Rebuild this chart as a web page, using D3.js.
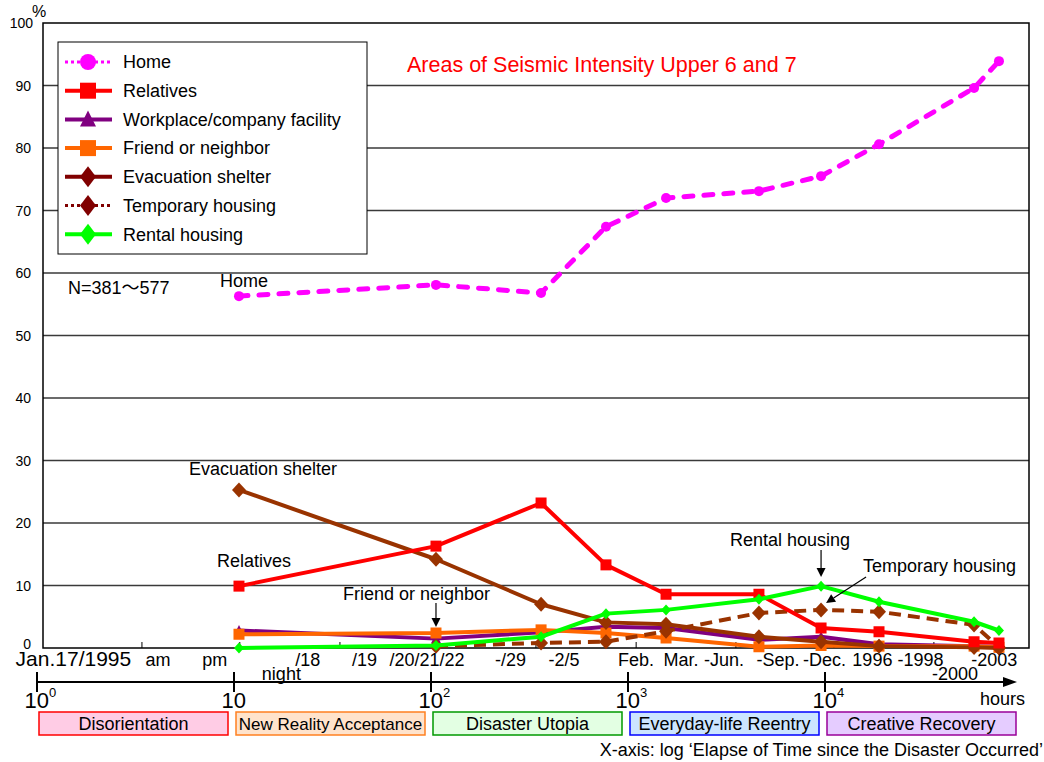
<!DOCTYPE html>
<html><head><meta charset="utf-8">
<script src="https://cdn.jsdelivr.net/npm/d3@7"></script>
<style>
body{margin:0;background:#fff}
text{font-family:"Liberation Sans",Arial,"Noto Sans CJK JP",sans-serif;fill:#000}
</style>
</head><body>
<svg id="c" width="1044" height="762"></svg>
<script>
// ---------------- DATA ----------------
const timeHours = [10.6, 106, 362, 773, 1560, 4620, 9550, 18800, 57100, 76400];
const home       = [56.3, 58.1, 56.8, 67.4, 72.0, 73.1, 75.5, 80.6, 89.6, 93.9];
const relatives  = [9.9, 16.3, 23.2, 13.3, 8.6, 8.6, 3.2, 2.6, 1.0, 0.8];
const workplace  = [2.8, 1.5, 2.5, 3.4, 3.2, 1.3, 1.8, 0.6, 0.3, 0.2];
const friend     = [2.2, 2.4, 2.9, 2.4, 1.6, 0.2, 0.4, 0.3, 0.3, 0.1];
const evacuation = [25.3, 14.2, 7.0, 4.1, 3.8, 1.8, 1.0, 0.3, 0.1, 0.0];
const temporary  = [null, 0.3, 0.8, 1.0, 2.7, 5.6, 6.1, 5.8, 3.7, 0.1];
const rental     = [0.0, 0.4, 1.8, 5.5, 6.1, 7.8, 9.9, 7.4, 4.2, 2.8];

const seriesNames = ["Home","Relatives","Workplace/company facility","Friend or neighbor","Evacuation shelter","Temporary housing","Rental housing"];
const seriesData  = [home, relatives, workplace, friend, evacuation, temporary, rental];

const yTicks = [0,10,20,30,40,50,60,70,80,90,100];
const decadeExps = [0,1,2,3,4];
const minorTicks = [3.41, 10.7, 34.5, 108, 341, 1100, 3530, 11100, 35700];
const timeLabelsRow1 = [["Jan.17/1995",1.53],["am",4.11],["pm",7.99],["/18",23.7],["/19",46.0],["/20/21/22",95.4],["-/29",253],["-2/5",473],["Feb.",1098],["Mar.",1858],["-Jun.",3070],["-Sep.",5770],["-Dec.",9940],["1996",17400],["-1998",30550],["-2003",72300]];
const timeLabelsRow2 = [["night",17.4],["-2000",45700]];
const phases = ["Disorientation","New Reality Acceptance","Disaster Utopia","Everyday-life Reentry","Creative Recovery"];

// ---------------- STYLES ----------------
const lineColors   = ["#FF00FF","#FF0000","#800080","#FF6600","#993300","#993300","#00FF00"];
const legendColors = ["#FF00FF","#FF0000","#800080","#FF6600","#800000","#800000","#00FF00"];
const shapes       = ["circle","square","triangle","square","diamond","diamond","diamond"];
const phaseFill    = ["#FFCCE5","#FFE3CC","#E3FFE3","#CCE5FF","#E5CCFF"];
const phaseStroke  = ["#FF0000","#FF8020","#009900","#0000FF","#990099"];

// ---------------- SCALES ----------------
const svg = d3.select("#c");
const x = d3.scaleLog().domain([1,1e5]).range([37,1022]);
const y = d3.scaleLinear().domain([0,100]).range([648,23]);
const plotL = 43, plotR = 1029;

function marker(g, shape, cx, cy, w, h, color){
  if(shape==="circle") g.append("circle").attr("cx",cx).attr("cy",cy).attr("r",w/2).attr("fill",color);
  else if(shape==="square") g.append("rect").attr("x",cx-w/2).attr("y",cy-h/2).attr("width",w).attr("height",h).attr("fill",color);
  else if(shape==="triangle") g.append("path").attr("d",`M${cx},${cy-h*0.55}L${cx+w/2},${cy+h*0.45}L${cx-w/2},${cy+h*0.45}Z`).attr("fill",color);
  else if(shape==="diamond")
    g.append("path").attr("d",`M${cx},${cy-h/2}L${cx+w/2},${cy}L${cx},${cy+h/2}L${cx-w/2},${cy}Z`).attr("fill",color);
}

// ---------------- GRID + FRAME ----------------
svg.append("g").selectAll("line").data(yTicks.slice(1,-1)).join("line")
  .attr("x1",plotL).attr("x2",plotR).attr("y1",d=>y(d)).attr("y2",d=>y(d))
  .attr("stroke","#3a3a3a").attr("stroke-width",1.3);
svg.append("rect").attr("x",plotL).attr("y",y(100)).attr("width",plotR-plotL).attr("height",y(0)-y(100))
  .attr("fill","none").attr("stroke","#000").attr("stroke-width",1.5);
svg.append("g").selectAll("line").data(minorTicks).join("line")
  .attr("x1",d=>x(d)).attr("x2",d=>x(d)).attr("y1",y(0)-6).attr("y2",y(0))
  .attr("stroke","#000").attr("stroke-width",1);

// y labels
svg.append("g").selectAll("text").data(yTicks).join("text")
  .attr("x",d=>d===100?33:31).attr("y",d=>y(d)-(d===0?4:0)).attr("dy","0.36em").attr("text-anchor","end")
  .attr("font-size",14).text(d=>d);
svg.append("text").attr("x",32).attr("y",17).attr("font-size",16).text("%");

// ---------------- SERIES ----------------
const order = [2,3,5,4,1,6,0];
const dashes = {0:"9,11",5:"12,7"};
const widths = {0:5};
const mw = {0:10,1:11,2:10,3:11,4:14,5:14,6:10};
const mh = {0:10,1:11,2:10,3:11,4:15,5:15,6:11};
order.forEach(si=>{
  const data = seriesData[si];
  const line = d3.line().defined(d=>d!=null).x((d,i)=>x(timeHours[i])).y(d=>y(d));
  svg.append("path").datum(data).attr("d",line).attr("fill","none")
    .attr("stroke",lineColors[si]).attr("stroke-width",widths[si]||4)
    .attr("stroke-dasharray",dashes[si]||null)
    .attr("stroke-linecap",si===0?"round":"butt").attr("stroke-linejoin","round");
  const g = svg.append("g");
  data.forEach((d,i)=>{ if(d!=null) marker(g,shapes[si],x(timeHours[i]),y(d),mw[si],mh[si],lineColors[si]); });
});

// ---------------- LEGEND ----------------
const lg = svg.append("g");
lg.append("rect").attr("x",58).attr("y",42).attr("width",309).attr("height",212)
  .attr("fill","#fff").attr("stroke","#000").attr("stroke-width",1);
seriesNames.forEach((n,i)=>{
  const cy = 62 + i*28.7;
  const dotted = (i===0||i===5);
  lg.append("line").attr("x1",65).attr("x2",112).attr("y1",cy).attr("y2",cy)
    .attr("stroke",legendColors[i]).attr("stroke-width",dotted?3:4)
    .attr("stroke-dasharray",dotted?"3,3":null);
  const dia = shapes[i]==="diamond";
  marker(lg,shapes[i],88,cy,16,dia?21:16,legendColors[i]);
  lg.append("text").attr("x",123).attr("y",cy).attr("dy","0.35em").attr("font-size",18).text(n);
});

// ---------------- TEXT ANNOTATIONS ----------------
svg.append("text").attr("x",407).attr("y",72).attr("font-size",21.5).style("fill","#FF0000")
  .text("Areas of Seismic Intensity Upper 6 and 7");
svg.append("text").attr("x",68).attr("y",294).attr("font-size",18).text("N=381～577");
svg.append("text").attr("x",x(timeHours[0])-19).attr("y",y(home[0])-9).attr("font-size",18).text("Home");
svg.append("text").attr("x",x(timeHours[0])-50).attr("y",y(evacuation[0])-15).attr("font-size",18).text("Evacuation shelter");
svg.append("text").attr("x",x(timeHours[0])-22).attr("y",y(relatives[0])-19).attr("font-size",18).text("Relatives");
svg.append("text").attr("x",x(timeHours[1])-93).attr("y",600).attr("font-size",18).text("Friend or neighbor");
svg.append("text").attr("x",x(timeHours[6])-91).attr("y",546).attr("font-size",18).text("Rental housing");
svg.append("text").attr("x",x(timeHours[6])+42).attr("y",572).attr("font-size",18).text("Temporary housing");

function arrow(x1,y1,x2,y2){
  const a = Math.atan2(y2-y1,x2-x1), L=9, W=4.5;
  const bx = x2-L*Math.cos(a), by = y2-L*Math.sin(a);
  svg.append("line").attr("x1",x1).attr("y1",y1).attr("x2",bx).attr("y2",by).attr("stroke","#000").attr("stroke-width",1.2);
  svg.append("path").attr("d",`M${x2},${y2}L${bx+W*Math.sin(a)},${by-W*Math.cos(a)}L${bx-W*Math.sin(a)},${by+W*Math.cos(a)}Z`).attr("fill","#000");
}
arrow(x(timeHours[1]),603,x(timeHours[1]),627);
arrow(x(timeHours[6]),550,x(timeHours[6]),577);
arrow(x(timeHours[6])+45,577,x(timeHours[6])+5,603);

// ---------------- TIME LABELS ----------------
svg.append("g").selectAll("text").data(timeLabelsRow1).join("text")
  .attr("x",d=>x(d[1])).attr("y",666).attr("text-anchor","middle")
  .attr("font-size",(d,i)=>i===0?21:18).text(d=>d[0]);
svg.append("g").selectAll("text").data(timeLabelsRow2).join("text")
  .attr("x",d=>x(d[1])).attr("y",680).attr("text-anchor","middle")
  .attr("font-size",18).text(d=>d[0]);

// ---------------- BOTTOM LOG AXIS ----------------
const axY = 682;
svg.append("line").attr("x1",x(1)).attr("x2",1008).attr("y1",axY).attr("y2",axY).attr("stroke","#000").attr("stroke-width",2);
svg.append("path").attr("d",`M1017,${axY}L1003,${axY-5}L1003,${axY+5}Z`).attr("fill","#000");
svg.append("g").selectAll("line").data(decadeExps).join("line")
  .attr("x1",d=>x(Math.pow(10,d))).attr("x2",d=>x(Math.pow(10,d)))
  .attr("y1",axY-10).attr("y2",axY+10).attr("stroke","#000").attr("stroke-width",2);
decadeExps.forEach(k=>{
  const t = svg.append("text").attr("x",x(Math.pow(10,k))-12.5).attr("y",708).attr("font-size",22);
  t.append("tspan").text("10");
  if(k!==1) t.append("tspan").attr("font-size",13).attr("dy",-11).text(k);
});
svg.append("text").attr("x",1025).attr("y",705).attr("text-anchor","end").attr("font-size",18).text("hours");

// phase boxes
phases.forEach((p,k)=>{
  const x0 = x(Math.pow(10,k))+2, x1 = x(Math.pow(10,k+1))-6;
  svg.append("rect").attr("x",x0).attr("y",712).attr("width",x1-x0).attr("height",23)
    .attr("fill",phaseFill[k]).attr("stroke",phaseStroke[k]).attr("stroke-width",1.5);
  svg.append("text").attr("x",(x0+x1)/2).attr("y",730).attr("text-anchor","middle")
    .attr("font-size",k===1?17:18).text(p);
});
svg.append("text").attr("x",1043).attr("y",756).attr("text-anchor","end").attr("font-size",18)
  .text("X-axis: log \u2018Elapse of Time since the Disaster Occurred\u2019");
</script>
</body></html>
